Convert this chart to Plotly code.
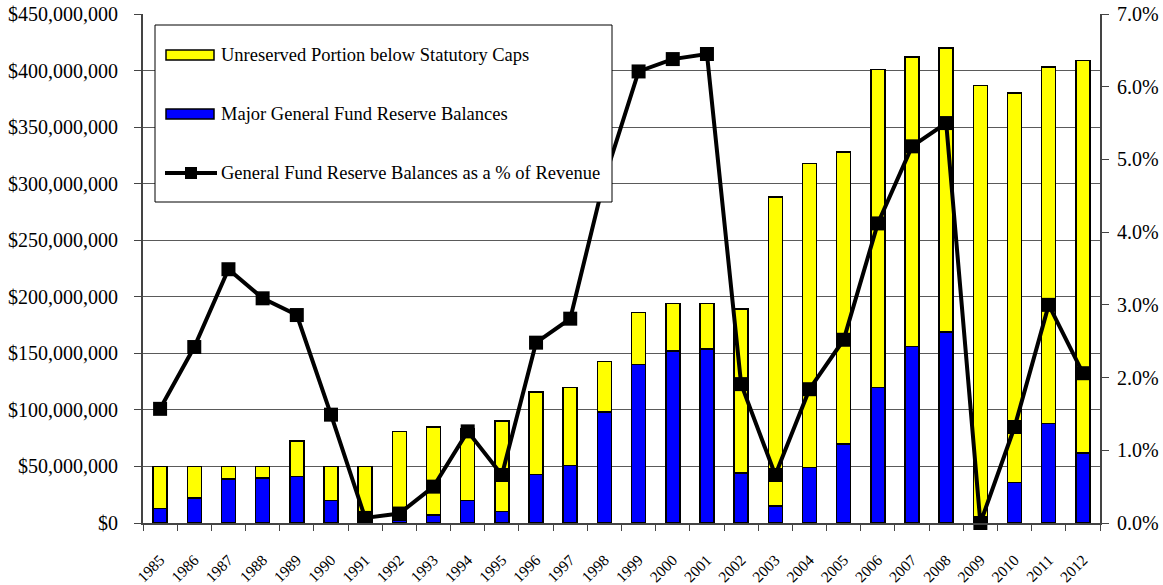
import plotly.graph_objects as go

years = [str(y) for y in range(1985, 2013)]

# Major general fund reserve balances ($)
reserve = [13e6, 22e6, 39e6, 40e6, 41e6, 20e6, 1e6, 2e6, 7e6, 20e6,
           10e6, 43e6, 51e6, 98e6, 140e6, 152e6, 154e6, 44e6, 15e6, 49e6,
           70e6, 120e6, 156e6, 169e6, 0, 36e6, 88e6, 62e6]
# Unreserved portion below statutory caps ($)
unreserved = [37e6, 28e6, 11e6, 10e6, 31.5e6, 30e6, 49e6, 79e6, 78e6, 63e6,
              80e6, 73e6, 69e6, 45e6, 46e6, 42e6, 40e6, 145e6, 273e6, 269e6,
              258e6, 281e6, 256e6, 251e6, 387e6, 344e6, 315e6, 347e6]
# reserve balances as a share of revenue
pct_revenue = [0.0157, 0.0242, 0.0349, 0.0309, 0.0286, 0.0149, 0.0007, 0.0013,
               0.0050, 0.0126, 0.0066, 0.0248, 0.0281, 0.0473, 0.0621, 0.0638,
               0.0645, 0.0191, 0.0066, 0.0184, 0.0252, 0.0412, 0.0518, 0.0550,
               0.0000, 0.0132, 0.0300, 0.0206]

legend_names = ["Unreserved Portion below Statutory Caps",
                "Major General Fund Reserve Balances",
                "General Fund Reserve Balances as a % of Revenue"]

serif = "Liberation Serif"
axis_col = "#444444"

fig = go.Figure()
fig.add_trace(
    go.Bar(
        x=years, y=reserve, name=legend_names[1],
        marker=dict(color="#0000ff", line=dict(color="black", width=1.5)),
    )
)
fig.add_trace(
    go.Bar(
        x=years, y=unreserved, name=legend_names[0],
        marker=dict(color="#ffff00", line=dict(color="black", width=1.5)),
    )
)
fig.add_trace(
    go.Scatter(
        x=years, y=pct_revenue, yaxis="y2", mode="lines+markers",
        name=legend_names[2],
        line=dict(color="black", width=4),
        marker=dict(symbol="square", size=14, color="black"),
        cliponaxis=False,
    )
)

W, H = 1163, 585
# plot area in window pixels: x 143..1100, y 14..523
x_lo, x_hi, y_lo, y_hi = 143, 1100, 14, 523


def px(x):
    return (x - x_lo) / (x_hi - x_lo)


def py(y):
    return (y_hi - y) / (y_hi - y_lo)


# hand-drawn legend box (Excel style: wide swatches, roomy rows)
shapes = [
    dict(type="rect", xref="paper", yref="paper", layer="above",
         x0=px(155), x1=px(612), y0=py(202), y1=py(25),
         fillcolor="white", line=dict(color="black", width=1)),
    dict(type="rect", xref="paper", yref="paper", layer="above",
         x0=px(166), x1=px(214), y0=py(60), y1=py(50),
         fillcolor="#ffff00", line=dict(color="black", width=1.5)),
    dict(type="rect", xref="paper", yref="paper", layer="above",
         x0=px(166), x1=px(214), y0=py(119), y1=py(109),
         fillcolor="#0000ff", line=dict(color="black", width=1.5)),
    dict(type="line", xref="paper", yref="paper", layer="above",
         x0=px(165), x1=px(217), y0=py(173), y1=py(173),
         line=dict(color="black", width=4)),
    dict(type="rect", xref="paper", yref="paper", layer="above",
         x0=px(185), x1=px(197), y0=py(179), y1=py(167),
         fillcolor="black", line=dict(color="black", width=0)),
]
annotations = [
    dict(xref="paper", yref="paper", x=px(219), y=py(yy), text=t,
         showarrow=False, xanchor="left", yanchor="middle",
         font=dict(family=serif, size=18.5, color="black"))
    for t, yy in zip(legend_names, [55, 114, 173])
]

fig.update_layout(
    barmode="stack",
    bargap=0.59,
    width=W,
    height=H,
    showlegend=False,
    plot_bgcolor="white",
    paper_bgcolor="white",
    font=dict(family=serif, color="black", size=17),
    margin=dict(l=x_lo, r=W - x_hi, t=y_lo, b=H - y_hi),
    shapes=shapes,
    annotations=annotations,
    xaxis=dict(
        type="category",
        range=[-0.5, len(years) - 0.5],
        tickangle=-45,
        tickfont=dict(size=15.5),
        ticks="outside", ticklen=6, tickcolor=axis_col, tickson="boundaries",
        showline=True, linecolor=axis_col, linewidth=2,
        ticklabelstandoff=20, ticklabeloverflow="allow",
        automargin=False,
    ),
    yaxis=dict(
        range=[0, 450e6], dtick=50e6, tickformat="$,.0f",
        tickfont=dict(size=20),
        showgrid=True, gridcolor="#5a5a5a", gridwidth=1,
        ticks="outside", ticklen=7, tickcolor=axis_col,
        showline=True, linecolor=axis_col, linewidth=2,
        zeroline=False, automargin=False, ticklabelstandoff=12,
        ticklabeloverflow="allow",
    ),
    yaxis2=dict(
        overlaying="y", side="right",
        range=[0, 0.07], dtick=0.01, tickformat=".1%",
        tickfont=dict(size=20),
        showgrid=False, zeroline=False,
        ticks="outside", ticklen=7, tickcolor=axis_col,
        showline=True, linecolor=axis_col, linewidth=2,
        automargin=False, ticklabelstandoff=4,
        ticklabeloverflow="allow",
    ),
)

# drop the default 8px page margin so the figure fills the window exactly
fig.write_html(
    "out.html",
    config={"displayModeBar": False},
    post_script="document.body.style.margin='0px';",
)
